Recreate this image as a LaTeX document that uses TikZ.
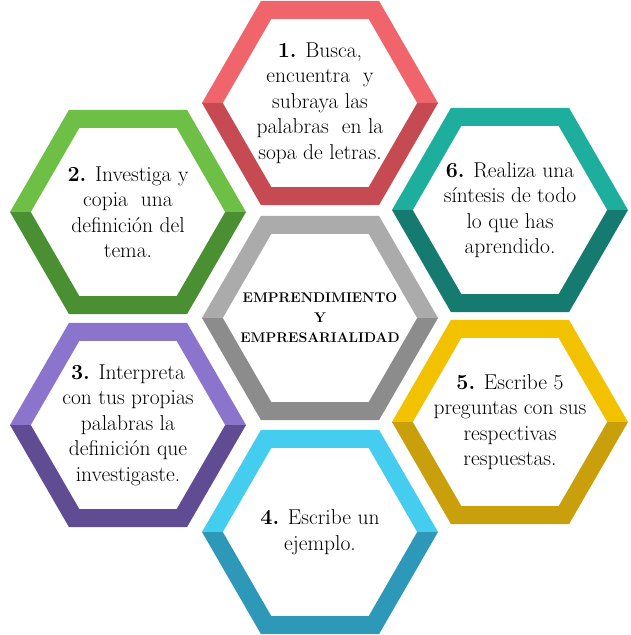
\documentclass[tikz,border=0pt]{standalone}

\definecolor{redL}{HTML}{F0646C}
\definecolor{redD}{HTML}{C64A52}
\definecolor{greenL}{HTML}{6DBF45}
\definecolor{greenD}{HTML}{4A9032}
\definecolor{tealL}{HTML}{1EAE9D}
\definecolor{tealD}{HTML}{157A70}
\definecolor{purpleL}{HTML}{8A74CC}
\definecolor{purpleD}{HTML}{5F4C93}
\definecolor{goldL}{HTML}{F2C200}
\definecolor{goldD}{HTML}{C9A00C}
\definecolor{cyanL}{HTML}{45CDF0}
\definecolor{cyanD}{HTML}{2E98B8}
\definecolor{grayL}{HTML}{ABABAB}
\definecolor{grayD}{HTML}{8C8C8C}

% #1 name, #2 centre, #3 light half, #4 dark half, #5 text
\newcommand{\hexcell}[5]{%
  \begin{scope}[shift={#2}]
    \fill[#3] (-118,0)--(-59,-102.2)--(59,-102.2)--(118,0)--(97.2,0)--(48.6,-84.2)--(-48.6,-84.2)--(-97.2,0)--cycle;
    \fill[#4] (-118,0)--(-59,102.2)--(59,102.2)--(118,0)--(97.2,0)--(48.6,84.2)--(-48.6,84.2)--(-97.2,0)--cycle;
    \node[celltext] (#1) at (0,0) {#5};
  \end{scope}}

\begin{document}
\begin{tikzpicture}[x=1pt,y=-1pt,
    celltext/.style={align=center,inner sep=0pt,font=\fontsize{21.5}{25.5}\selectfont},
    titletext/.style={celltext,font=\fontsize{14}{20}\selectfont\bfseries}]
    \useasboundingbox (0,0) rectangle (631,635);
    \hexcell{busca}{(320,103)}{redL}{redD}{\textbf{1.} Busca,\\encuentra\ \ y\\subraya las\\palabras\ \ en la\\sopa de letras.}
    \hexcell{investiga}{(128,212)}{greenL}{greenD}{\textbf{2.} Investiga y\\copia\ \ una\\definición del\\tema.}
    \hexcell{sintesis}{(510,210)}{tealL}{tealD}{\textbf{6.} Realiza una\\síntesis de todo\\lo que has\\aprendido.}
    \hexcell{interpreta}{(128,425)}{purpleL}{purpleD}{\textbf{3.} Interpreta\\con tus propias\\palabras la\\definición que\\investigaste.}
    \hexcell{preguntas}{(510,422)}{goldL}{goldD}{\textbf{5.} Escribe 5\\preguntas con sus\\respectivas\\respuestas.}
    \hexcell{ejemplo}{(320,532)}{cyanL}{cyanD}{\textbf{4.} Escribe un\\ejemplo.}
    \hexcell{tema}{(320,318)}{grayL}{grayD}{}
    \node[titletext] (titulo) at (tema) {EMPRENDIMIENTO\\Y\\EMPRESARIALIDAD};
  \end{tikzpicture}
\end{document}
